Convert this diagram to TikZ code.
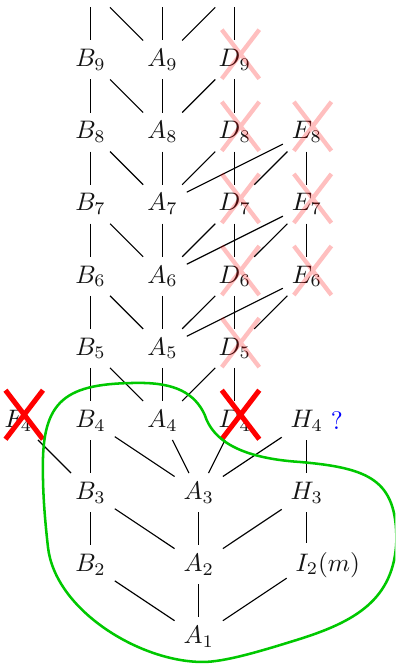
\documentclass[tikz,border=0pt]{standalone}
\usepackage{amsmath}
\usepackage{tikz}
\usetikzlibrary{positioning}
\definecolor{mydark}{RGB}{20,20,20}
\definecolor{myred}{RGB}{255,0,0}
\definecolor{mygreen}{RGB}{0,200,0}
\definecolor{myblue}{RGB}{0,0,255}
\tikzset{
  vertex/.style={inner sep=3.33pt, text=mydark},
  hidden/.style={inner sep=3.33pt},
  link/.style={color=black, line width=0.45pt},
  softcross/.style={draw=myred, opacity=0.25, line width=1.7pt},
  hardcross/.style={draw=myred, line width=2pt},
  region/.style={draw=mygreen, line width=1pt}
}
\newcommand{\crossnode}[2]{%
  \draw[#2] ([shift={(-0.18,-0.26)}]#1.center) -- ([shift={(0.34,0.42)}]#1.center)
            ([shift={(-0.18,0.42)}]#1.center) -- ([shift={(0.34,-0.26)}]#1.center);}

\begin{document}
\begin{tikzpicture}
  \useasboundingbox (-1.256,0.609) rectangle (4.228,9.832);
  \clip (-1.256,0.609) rectangle (4.228,9.832);

  % Upper columns B, A, D (row 10 only feeds the edges at the top)
  \foreach \k in {4,...,9} {
    \node[vertex] (B\k) at (0,\k) {$B_{\k}$};
    \node[vertex] (A\k) at (1,\k) {$A_{\k}$};
    \node[vertex] (D\k) at (2,\k) {$D_{\k}$};
  }
  \node[hidden] (B10) at (0,10) {\phantom{$B_9$}};
  \node[hidden] (A10) at (1,10) {\phantom{$A_9$}};
  \node[hidden] (D10) at (2,10) {\phantom{$D_9$}};
  \foreach \k in {6,7,8}
    \node[vertex] (E\k) at (3,\k) {$E_{\k}$};

  % Lower part
  \node[vertex] (F4) at (-1,4) {$F_4$};
  \node[vertex] (H4) at (3,4) {$H_4$};
  \node[vertex, text=myblue, right=-4pt of H4] (Q4) {?};
  \node[vertex] (B3) at (0,3) {$B_3$};
  \node[vertex] (A3) at (1.5,3) {$A_3$};
  \node[vertex] (H3) at (3,3) {$H_3$};
  \node[vertex] (B2) at (0,2) {$B_2$};
  \node[vertex] (A2) at (1.5,2) {$A_2$};
  \node[vertex] (I2) at (3,2) {$I_2\rlap{$(m)$}$};
  \node[vertex] (A1) at (1.5,1) {$A_1$};

  % Edges of the upper grid
  \foreach \k in {5,...,10} {
    \pgfmathtruncatemacro{\j}{\k-1}
    \draw[link] (B\k) -- (B\j);
    \draw[link] (B\k) -- (A\j);
    \draw[link] (A\k) -- (A\j);
    \draw[link] (D\k) -- (A\j);
    \draw[link] (D\k) -- (D\j);
  }
  \foreach \k in {6,7,8} {
    \pgfmathtruncatemacro{\j}{\k-1}
    \draw[link] (E\k) -- (A\j);
    \draw[link] (E\k) -- (D\j);
  }
  \draw[link] (E8) -- (E7);
  \draw[link] (E7) -- (E6);

  % Edges of the lower part
  \draw[link] (F4) -- (B3);
  \draw[link] (B4) -- (B3);
  \draw[link] (B4) -- (A3);
  \draw[link] (A4) -- (A3);
  \draw[link] (D4) -- (A3);
  \draw[link] (H4) -- (A3);
  \draw[link] (H4) -- (H3);
  \draw[link] (B3) -- (B2);
  \draw[link] (B3) -- (A2);
  \draw[link] (A3) -- (A2);
  \draw[link] (H3) -- (A2);
  \draw[link] (H3) -- (I2);
  \draw[link] (B2) -- (A1);
  \draw[link] (A2) -- (A1);
  \draw[link] (I2) -- (A1);

  % Crossed-out nodes
  \foreach \n in {D9,D8,D7,D6,D5,E8,E7,E6} {
    \crossnode{\n}{softcross}
  }
  \crossnode{F4}{hardcross}
  \crossnode{D4}{hardcross}

  % Green region
  \draw[region] (-0.661,3.314)
    .. controls (-0.675,4.285) and (-0.356,4.521) .. (0.683,4.521)
    .. controls (1.168,4.521) and (1.445,4.382) .. (1.584,4.077)
    .. controls (1.694,3.730) and (2.068,3.480) .. (2.899,3.425)
    .. controls (3.868,3.342) and (4.242,3.175) .. (4.242,2.343)
    .. controls (4.215,1.511) and (3.661,1.205) .. (2.858,0.956)
    .. controls (2.346,0.797) and (1.860,0.651) .. (1.556,0.651)
    .. controls (0.683,0.651) and (-0.494,1.372) .. (-0.591,2.246)
    .. controls (-0.633,2.620) and (-0.661,2.967) .. (-0.661,3.314) -- cycle;
\end{tikzpicture}
\end{document}
